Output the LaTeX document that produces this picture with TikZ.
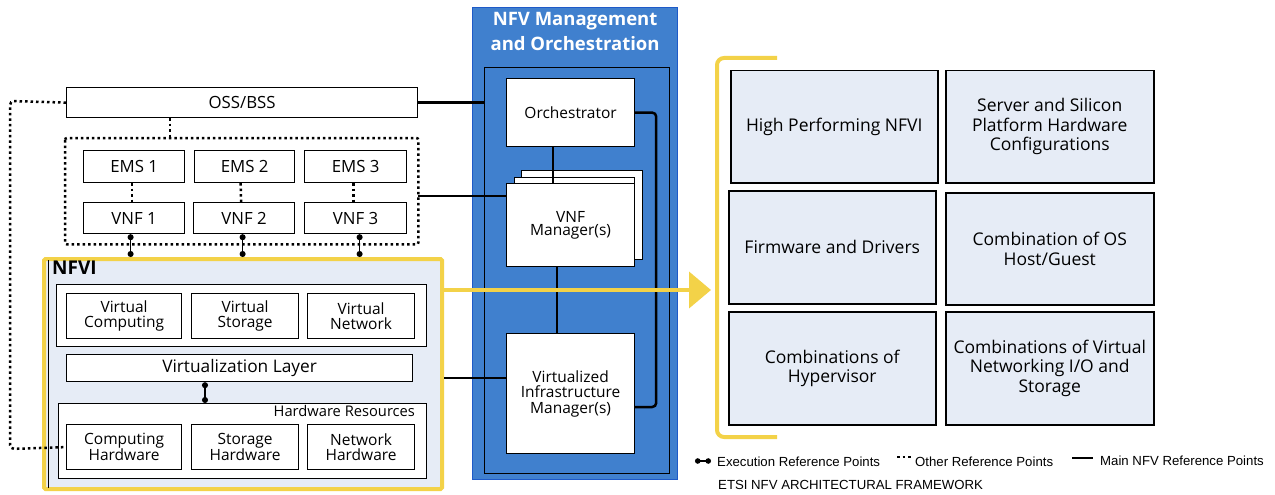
\documentclass[tikz,border=0pt]{standalone}
\usepackage{fontspec}
\setmainfont{Open Sans}
\newfontfamily\legfont{Liberation Sans}
\usetikzlibrary{calc,arrows.meta}
\definecolor{lblue}{RGB}{230,236,246}
\definecolor{mblue}{RGB}{64,128,206}
\definecolor{mborder}{RGB}{30,90,200}
\definecolor{yel}{RGB}{243,210,72}
\begin{document}
\begin{tikzpicture}[x=1pt,y=-1pt,
  box/.style={draw=black,line width=1.2pt,fill=white,anchor=north west,inner sep=1pt,align=center,font=\fontsize{15.5}{14.5}\selectfont},
  sbox/.style={box,font=\fontsize{16.8}{17}\selectfont},
  rbox/.style={box,fill=lblue,line width=1.5pt,font=\fontsize{17.5}{19.5}\selectfont},
  main/.style={line width=2.5pt,black},
  dotl/.style={line width=2.5pt,dash pattern=on 2.5pt off 3pt,black},
  exe/.style={line width=1.3pt,black,{Circle[length=6pt]}-{Circle[length=6pt]}},
  leg/.style={anchor=west,inner sep=0pt,font=\legfont\fontsize{13.2}{14}\selectfont},
  yl/.style={line width=4pt,yel}]
\useasboundingbox (0,0) rectangle (1275,495);
% ---- left: OSS / EMS / VNF
\node[sbox,minimum width=351pt,minimum height=30pt] (oss) at (66,87) {OSS/BSS};
\node[draw=none,minimum width=353pt,minimum height=106pt,anchor=north west] (emsbox) at (65,138) {};
\draw[dotl,rounded corners=2pt] (emsbox.north west) rectangle (emsbox.south east);
\node[sbox,minimum width=101pt,minimum height=32pt] (ems1) at (83,150) {EMS 1};
\node[sbox,minimum width=100pt,minimum height=32pt] (ems2) at (194,150) {EMS 2};
\node[sbox,minimum width=102pt,minimum height=32pt] (ems3) at (304,150) {EMS 3};
\node[sbox,minimum width=101pt,minimum height=31pt] (vnf1) at (83,202) {VNF 1};
\node[sbox,minimum width=101pt,minimum height=31pt] (vnf2) at (193,202) {VNF 2};
\node[sbox,minimum width=102pt,minimum height=31pt] (vnf3) at (304,202) {VNF 3};
\draw[dotl] ($(oss.south west)+(104,0)$) -- ($(emsbox.north west)+(105,0)$);
\draw[dotl] ($(ems1.south)+(-2,0)$) -- ($(vnf1.north)+(-2,0)$);
\draw[dotl] ($(ems2.south)+(-4,0)$) -- ($(vnf2.north)+(-3,0)$);
\draw[dotl] ($(ems3.south)+(-2,0)$) -- ($(vnf3.north)+(-2,0)$);
% ---- NFVI
\node[draw=yel,line width=4pt,fill=lblue,rounded corners=1.5pt,minimum width=398pt,minimum height=230pt,anchor=north west] (nfvi) at (42,257) {};
\draw[black,line width=1pt] ($(nfvi.north west)+(6,3)$) -- ($(nfvi.south west)+(6,-3)$);
\node[anchor=north west,font=\fontsize{19}{20}\selectfont\bfseries,inner sep=0pt] (nfvilbl) at (52,261) {NFVI};
\node[box,minimum width=370pt,minimum height=62pt] (virt) at (56,284) {};
\node[box,minimum width=115pt,minimum height=45pt] (vc) at (66,293) {Virtual\\Computing};
\node[box,minimum width=107pt,minimum height=45pt] (vs) at (191,293) {Virtual\\Storage};
\node[box,minimum width=107pt,minimum height=45pt] (vn) at (307,293) {Virtual\\Network};
\node[box,minimum width=346pt,minimum height=27pt,font=\fontsize{17.3}{18}\selectfont] (vl) at (66,354) {Virtualization Layer};
\node[box,minimum width=368pt,minimum height=75pt] (hw) at (58,403) {};
\node[anchor=north east,inner sep=0pt,font=\fontsize{14.7}{15}\selectfont] (hwl) at ($(hw.north east)+(-12,2)$) {Hardware Resources};
\node[box,minimum width=115pt,minimum height=45pt] (ch) at (66,424) {Computing\\Hardware};
\node[box,minimum width=107pt,minimum height=45pt] (sh) at (191,424) {Storage\\Hardware};
\node[box,minimum width=107pt,minimum height=45pt] (nh) at (307,424) {Network\\Hardware};
% execution points
\draw[exe] ($(vnf1.south)+(-3.5,0)$) -- ($(vnf1.south |- nfvi.north)+(-3.5,0)$);
\draw[exe] ($(vnf2.south)+(-1.5,0)$) -- ($(vnf2.south |- nfvi.north)+(-1.5,0)$);
\draw[exe] ($(vnf3.south)+(4,0)$) -- ($(vnf3.south |- nfvi.north)+(4,0)$);
\draw[exe] ($(vl.south west)+(139,0)$) -- ($(vl.south west |- hw.north)+(139,0)$);
% left dotted
\coordinate (lt) at (10,101);
\coordinate (lb) at (10,449);
\draw[dotl,rounded corners=4pt] (oss.west) -- (lt) -- (lb) -- (ch.west);
% ---- MANO
\node[draw=mborder,line width=1.2pt,fill=mblue,minimum width=205pt,minimum height=472pt,anchor=north west] (mano) at (472,7) {};
\node[anchor=north,align=center,text=white,font=\fontsize{18.5}{25.5}\selectfont\bfseries,inner sep=0pt] (manot) at ($(mano.north)+(0,5)$) {NFV Management\\and Orchestration};
\node[draw=black,line width=1.3pt,minimum width=185pt,minimum height=406pt,anchor=north west] (inner) at (484,67) {};
\node[box,minimum width=128pt,minimum height=68pt] (orch) at (506,78) {Orchestrator};
\node[box,minimum width=121pt,minimum height=89pt] (vnfmb) at (521,170) {};
\node[box,minimum width=120pt,minimum height=88pt] (vnfmm) at (514,177) {};
\node[box,minimum width=128pt,minimum height=83pt,font=\fontsize{15.5}{13.5}\selectfont] (vnfm) at (506,183) {VNF\\Manager(s)};
\node[box,minimum width=128pt,minimum height=120pt,font=\fontsize{15.5}{15.5}\selectfont] (vim) at (506,333) {Virtualized\\Infrastructure\\Manager(s)};
\draw[main] ($(orch.south west)+(47,0)$) -- ($(vnfm.north west)+(47,0)$);
\draw[main] ($(vnfm.south west)+(51,0)$) -- ($(vim.north west)+(51,0)$);
\coordinate (vimr) at ($(vim.north east)+(0,74)$);
\draw[main,rounded corners=4pt] (orch.east) -- ++(21,0) |- (vimr);
% main reference lines
\draw[main] (oss.east) -- (oss.east -| inner.west);
\coordinate (vnfml) at ($(vnfm.north west)+(0,13)$);
\draw[main] (vnfml) -- (vnfml -| emsbox.east);
\coordinate (viml) at ($(vim.north west)+(0,45)$);
\draw[main] (viml) -- (viml -| nfvi.east);
% ---- yellow arrow and bracket
\coordinate (ys) at ($(nfvi.north east)+(0,33)$);
\coordinate (ytip) at (711,290);
\draw[yl,-{Triangle[width=36pt,length=22pt]}] (ys) -- (ytip);
\coordinate (b1) at (777,58);
\coordinate (b2) at (717,58);
\coordinate (b3) at (717,437);
\coordinate (b4) at (777,437);
\draw[yl,rounded corners=7pt] (b1) -- (b2) -- (b3) -- (b4);
% ---- right boxes
\node[rbox,minimum width=207pt,minimum height=112pt] (r1) at (730,70) {High Performing NFVI};
\node[rbox,minimum width=208pt,minimum height=112pt] (r2) at (945,70) {Server and Silicon\\Platform Hardware\\Configurations};
\node[rbox,minimum width=207pt,minimum height=113pt] (r3) at (728,190) {Firmware and Drivers};
\node[rbox,minimum width=208pt,minimum height=112pt] (r4) at (945,192) {Combination of OS\\Host/Guest};
\node[rbox,minimum width=207pt,minimum height=113pt] (r5) at (728,311) {Combinations of\\Hypervisor};
\node[rbox,minimum width=208pt,minimum height=113pt] (r6) at (945,311) {Combinations of Virtual\\Networking I/O and\\Storage};
% ---- legend
\coordinate (e1) at (695,461);
\coordinate (e2) at (711,461);
\draw[line width=1.2pt,{Circle[length=5.5pt]}-{Circle[length=5.5pt]}] (e1) -- (e2);
\node[leg] (l1) at (717,462) {Execution Reference Points};
\coordinate (d1) at (897,457);
\coordinate (d2) at (911,457);
\draw[line width=2.5pt,dash pattern=on 2.5pt off 3pt] (d1) -- (d2);
\node[leg] (l2) at (915,462) {Other Reference Points};
\coordinate (m1) at (1072,458);
\coordinate (m2) at (1093,458);
\draw[line width=2.5pt] (m1) -- (m2);
\node[leg] (l3) at (1100,461) {Main NFV Reference Points};
\node[leg] (l4) at (718,485) {ETSI NFV ARCHITECTURAL FRAMEWORK};
\end{tikzpicture}
\end{document}
